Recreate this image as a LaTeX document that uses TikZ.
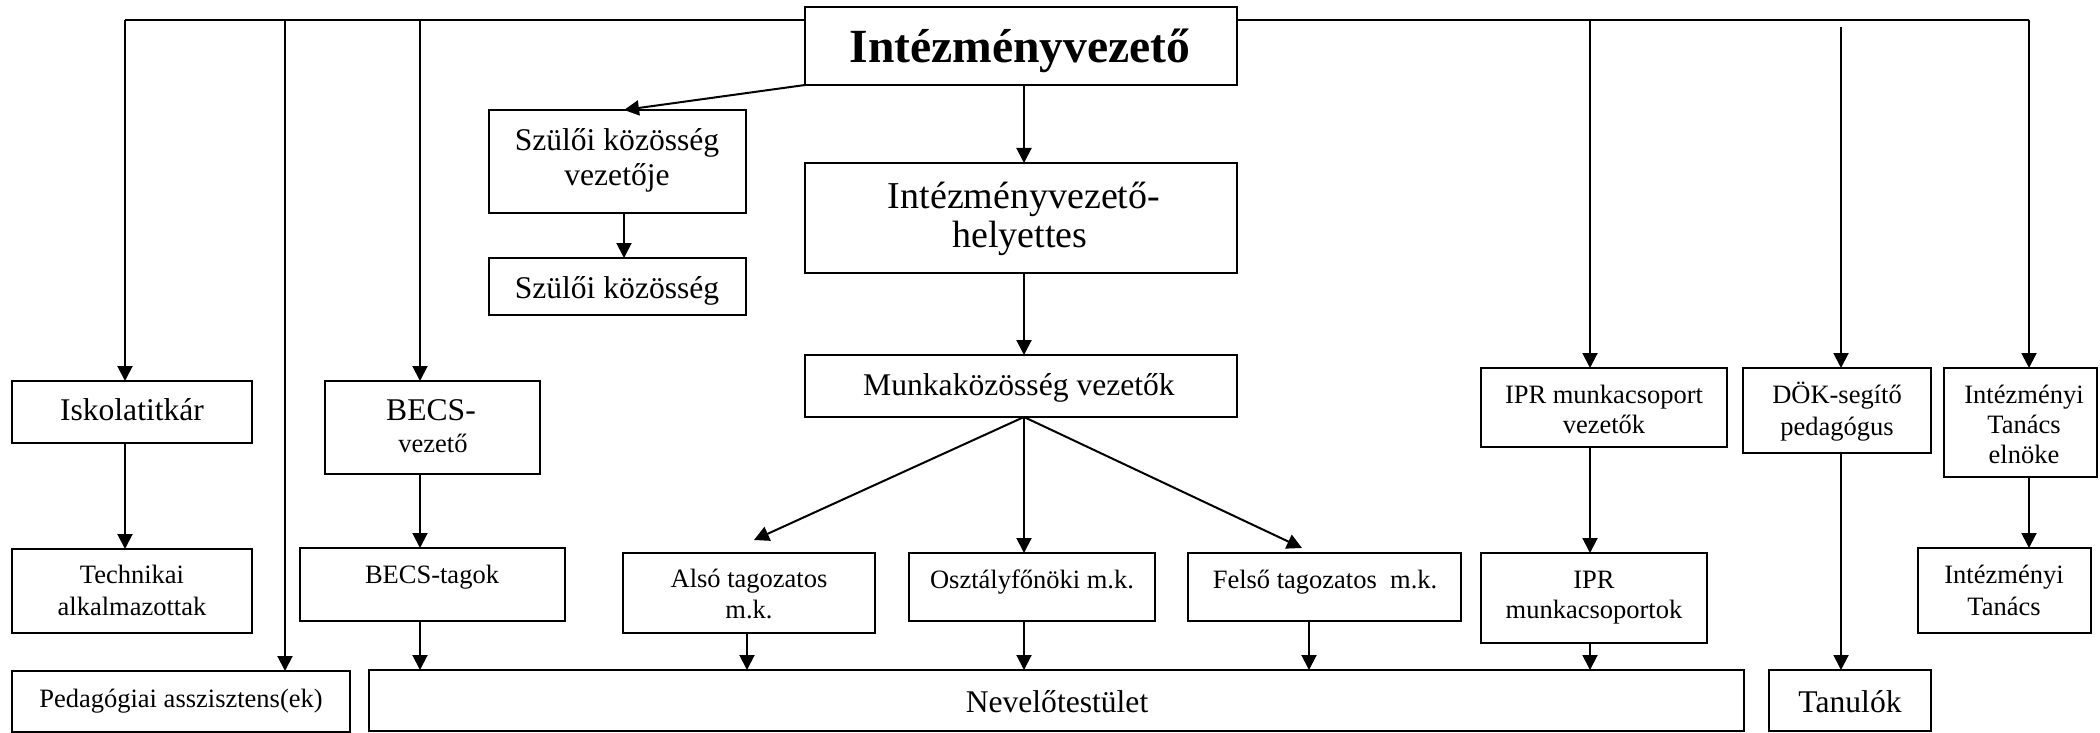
\documentclass[tikz,border=0pt]{standalone}
\usepackage{fontspec}
\setmainfont{Liberation Serif}
\usetikzlibrary{arrows.meta,fit,calc}
\begin{document}
\begin{tikzpicture}[x=0.5pt,y=-0.5pt,
  box/.style={draw, line width=1.3pt, inner sep=0pt, outer sep=0pt, rectangle},
  conn/.style={line width=1pt},
  arr/.style={line width=1pt, -{Triangle[length=7.5pt,width=7.5pt]}},
  titletext/.style={anchor=base, inner sep=0pt, font=\fontsize{23.8}{28}\selectfont\bfseries},
  midtext/.style={anchor=base, inner sep=0pt, font=\fontsize{19}{22}\selectfont},
  bigtext/.style={anchor=base, inner sep=0pt, font=\fontsize{15.8}{18}\selectfont},
  smalltext/.style={anchor=base, inner sep=0pt, font=\fontsize{13.25}{15}\selectfont}]
\useasboundingbox (0,0) rectangle (2100,733);

% boxes
\node[box, fit={(805,7) (1237,85)}] (iv) {};
\node[box, fit={(805,163) (1237,273)}] (ivh) {};
\node[box, fit={(805,355) (1237,417)}] (mk) {};
\node[box, fit={(489,110) (746,213)}] (szv) {};
\node[box, fit={(489,258) (746,315)}] (sz) {};
\node[box, fit={(12,381) (252,443)}] (isk) {};
\node[box, fit={(12,549) (252,633)}] (tech) {};
\node[box, fit={(12,671) (350,732)}] (ped) {};
\node[box, fit={(325,381) (540,474)}] (becsv) {};
\node[box, fit={(300,548) (565,621)}] (becst) {};
\node[box, fit={(623,553) (875,633)}] (also) {};
\node[box, fit={(909,553) (1155,621)}] (oszt) {};
\node[box, fit={(1188,553) (1461,621)}] (felso) {};
\node[box, fit={(369,670) (1744,731)}] (nev) {};
\node[box, fit={(1481,368) (1727,447)}] (iprv) {};
\node[box, fit={(1481,553) (1707,643)}] (iprm) {};
\node[box, fit={(1743,368) (1931,453)}] (dok) {};
\node[box, fit={(1769,670) (1931,731)}] (tan) {};
\node[box, fit={(1944,368) (2097,477)}] (elnok) {};
\node[box, fit={(1918,548) (2091,633)}] (itan) {};

% texts
\node[titletext] (t-iv) at (1020,63) {Intézményvezető};
\node[midtext] (t-ivh1) at (1024,208) {Intézményvezető-};
\node[midtext] (t-ivh2) at (1020,248) {helyettes};
\node[bigtext] (t-szv1) at (617,150) {Szülői közösség};
\node[bigtext] (t-szv2) at (617,185) {vezetője};
\node[bigtext] (t-sz) at (617,298) {Szülői közösség};
\node[bigtext] (t-mk) at (1019,395) {Munkaközösség vezetők};
\node[bigtext] (t-isk) at (132,420) {Iskolatitkár};
\node[bigtext] (t-becsv1) at (431,420) {BECS-};
\node[smalltext] (t-becsv2) at (433,452) {vezető};
\node[smalltext] (t-tech1) at (132,583) {Technikai};
\node[smalltext] (t-tech2) at (132,615) {alkalmazottak};
\node[smalltext] (t-becst) at (432,583) {BECS-tagok};
\node[smalltext] (t-ped) at (181,707) {Pedagógiai asszisztens(ek)};
\node[bigtext] (t-nev) at (1057,712) {Nevelőtestület};
\node[smalltext] (t-also1) at (749,587) {Alsó tagozatos};
\node[smalltext] (t-also2) at (749,618) {m.k.};
\node[smalltext] (t-oszt) at (1032,588) {Osztályfőnöki m.k.};
\node[smalltext] (t-felso) at (1325,588) {Felső tagozatos\ \ m.k.};
\node[smalltext] (t-iprv1) at (1604,403) {IPR munkacsoport};
\node[smalltext] (t-iprv2) at (1604,433) {vezetők};
\node[smalltext] (t-iprm1) at (1594,588) {IPR};
\node[smalltext] (t-iprm2) at (1594,618) {munkacsoportok};
\node[smalltext] (t-dok1) at (1837,403) {DÖK-segítő};
\node[smalltext] (t-dok2) at (1837,435) {pedagógus};
\node[smalltext] (t-eln1) at (2024,403) {Intézményi};
\node[smalltext] (t-eln2) at (2024,433) {Tanács};
\node[smalltext] (t-eln3) at (2024,463) {elnöke};
\node[bigtext] (t-tan) at (1850,712) {Tanulók};
\node[smalltext] (t-itan1) at (2004,583) {Intézményi};
\node[smalltext] (t-itan2) at (2004,615) {Tanács};

% helper coordinates
\coordinate (busL) at (125,20);
\coordinate (b1) at (285,20);
\coordinate (b2) at (420,20);
\coordinate (b3) at (1590,20);
\coordinate (busR) at (2029,20);
\coordinate (dok0) at (1841,27);
\coordinate (cx) at (1024,0);
\coordinate (szx) at (624,0);
\coordinate (ax) at (747,0);
\coordinate (fx) at (1309,0);
\coordinate (alsotip) at (754,540);
\coordinate (felsotip) at (1302,548);

% connectors
\draw[conn] (iv.west |- busL) -- (busL);
\draw[conn] (iv.east |- busR) -- (busR);
\draw[arr] (busL) -- (isk.north -| busL);
\draw[arr] (b1) -- (ped.north -| b1);
\draw[arr] (b2) -- (becsv.north -| b2);
\draw[arr] (b3) -- (iprv.north -| b3);
\draw[arr] (dok0) -- (dok.north -| dok0);
\draw[arr] (busR) -- (elnok.north -| busR);
\draw[arr] (iv.south west) -- (szv.north -| szx);
\draw[arr] (szv.south -| szx) -- (sz.north -| szx);
\draw[arr] (iv.south -| cx) -- (ivh.north -| cx);
\draw[arr] (ivh.south -| cx) -- (mk.north -| cx);
\draw[arr] (mk.south -| cx) -- (alsotip);
\draw[arr] (mk.south -| cx) -- (oszt.north -| cx);
\draw[arr] (mk.south -| cx) -- (felsotip);
\draw[arr] (isk.south -| busL) -- (tech.north -| busL);
\draw[arr] (becsv.south -| b2) -- (becst.north -| b2);
\draw[arr] (becst.south -| b2) -- (nev.north -| b2);
\draw[arr] (also.south -| ax) -- (nev.north -| ax);
\draw[arr] (oszt.south -| cx) -- (nev.north -| cx);
\draw[arr] (felso.south -| fx) -- (nev.north -| fx);
\draw[arr] (iprv.south -| b3) -- (iprm.north -| b3);
\draw[arr] (iprm.south -| b3) -- (nev.north -| b3);
\draw[arr] (dok.south -| dok0) -- (tan.north -| dok0);
\draw[arr] (elnok.south -| busR) -- (itan.north -| busR);
\end{tikzpicture}
\end{document}
